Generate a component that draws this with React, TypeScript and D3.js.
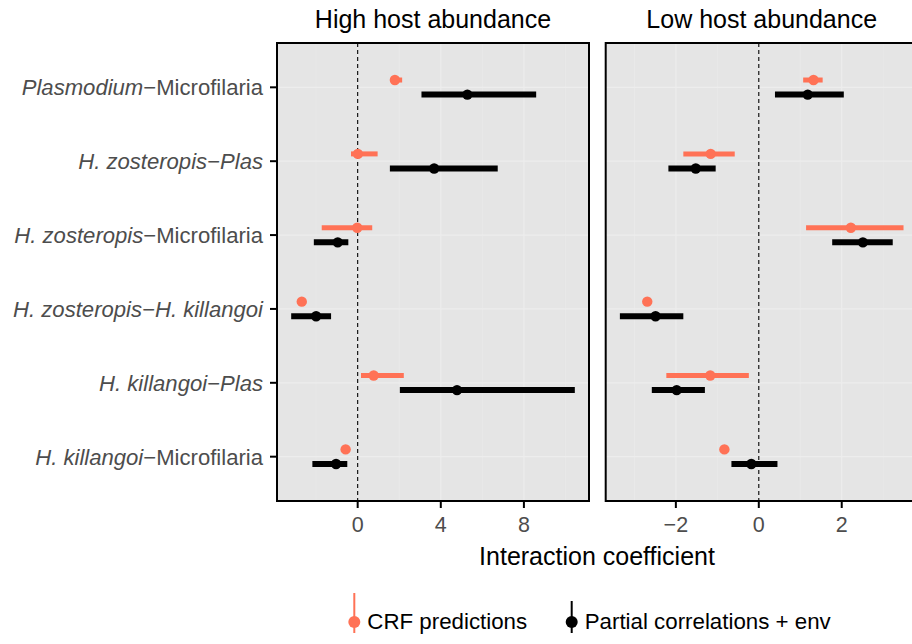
import React from 'react';
import * as d3 from 'd3';

// interaction pairs, top to bottom; each label is a list of [text, italic] pieces
const categories = [
  'Plasmodium-Microfilaria',
  'H. zosteropis-Plas',
  'H. zosteropis-Microfilaria',
  'H. zosteropis-H. killangoi',
  'H. killangoi-Plas',
  'H. killangoi-Microfilaria',
];
const categoryLabels: [string, boolean][][] = [
  [['Plasmodium', true], ['\u2212Microfilaria', false]],
  [['H. zosteropis\u2212Plas', true]],
  [['H. zosteropis', true], ['\u2212Microfilaria', false]],
  [['H. zosteropis\u2212H. killangoi', true]],
  [['H. killangoi\u2212Plas', true]],
  [['H. killangoi', true], ['\u2212Microfilaria', false]],
];

const panels = ['High host abundance', 'Low host abundance'];
const series = ['CRF predictions', 'Partial correlations + env'];

// high host abundance
const highCrfEst = [1.79, 0.01, -0.02, -2.69, 0.77, -0.58];
const highCrfLow = [1.62, -0.32, -1.73, -2.69, 0.16, -0.58];
const highCrfHigh = [2.14, 0.96, 0.7, -2.69, 2.22, -0.58];
const highPcEst = [5.28, 3.68, -0.96, -2.0, 4.78, -1.04];
const highPcLow = [3.07, 1.55, -2.11, -3.2, 2.03, -2.18];
const highPcHigh = [8.59, 6.74, -0.45, -1.28, 10.45, -0.5];

// low host abundance
const lowCrfEst = [1.32, -1.16, 2.22, -2.69, -1.17, -0.83];
const lowCrfLow = [1.07, -1.82, 1.14, -2.69, -2.23, -0.83];
const lowCrfHigh = [1.54, -0.58, 3.49, -2.69, -0.24, -0.83];
const lowPcEst = [1.18, -1.52, 2.51, -2.49, -1.98, -0.18];
const lowPcLow = [0.39, -2.18, 1.77, -3.35, -2.58, -0.66];
const lowPcHigh = [2.05, -1.04, 3.23, -1.82, -1.3, 0.45];

const highTicks = [0, 4, 8];
const lowTicks = [-2, 0, 2];

const colors = ['#FF7256', '#000000'];
const font = '"Liberation Sans", Arial, Helvetica, sans-serif';

const W = 912, H = 644;
const margin = { top: 43, left: 277, bottom: 143 };
const panelW = 312, panelGap = 16.7;
const plotH = H - margin.top - margin.bottom;

type Row = { cat: string; s: number; est: number; lo: number; hi: number };

function rows(est: number[][], lo: number[][], hi: number[][]): Row[] {
  const out: Row[] = [];
  categories.forEach((c, i) => {
    series.forEach((_, s) => {
      out.push({ cat: c, s, est: est[s][i], lo: lo[s][i], hi: hi[s][i] });
    });
  });
  return out;
}

const panelData = [
  rows([highCrfEst, highPcEst], [highCrfLow, highPcLow], [highCrfHigh, highPcHigh]),
  rows([lowCrfEst, lowPcEst], [lowCrfLow, lowPcLow], [lowCrfHigh, lowPcHigh]),
];
const panelTicks = [highTicks, lowTicks];

const fmt = (v: number) => (v < 0 ? '\u2212' + Math.abs(v) : String(v));

function Panel({ idx }: { idx: number }) {
  const data = panelData[idx];
  const x0 = margin.left + idx * (panelW + panelGap);
  const lo = d3.min(data, (d) => d.lo)!;
  const hi = d3.max(data, (d) => d.hi)!;
  const pad = (hi - lo) * 0.05;
  const x = d3.scaleLinear().domain([lo - pad, hi + pad]).range([0, panelW]);
  const y = d3.scalePoint().domain(categories).range([0, plotH]).padding(0.6);
  const dodge = d3.scalePoint<number>().domain([0, 1]).range([-7.3, 7.3]);
  const ticks = panelTicks[idx];
  const minor = d3.range(ticks.length + 1).map((i) => ticks[0] + (i - 0.5) * (ticks[1] - ticks[0]))
    .filter((v) => x(v) > 0 && x(v) < panelW);

  return (
    <g transform={`translate(${x0},${margin.top})`}>
      <rect width={panelW} height={plotH} fill="#E5E5E5" />
      {minor.map((v) => (
        <line key={'m' + v} x1={x(v)} x2={x(v)} y1={0} y2={plotH} stroke="#EBEBEB" strokeWidth={0.6} />
      ))}
      {ticks.map((v) => (
        <line key={'g' + v} x1={x(v)} x2={x(v)} y1={0} y2={plotH} stroke="#EDEDED" strokeWidth={1.2} />
      ))}
      {categories.map((c) => (
        <line key={c} x1={0} x2={panelW} y1={y(c)} y2={y(c)} stroke="#EDEDED" strokeWidth={1.2} />
      ))}
      <line x1={x(0)} x2={x(0)} y1={0} y2={plotH} stroke="#000" strokeWidth={1.1} strokeDasharray="4,3" />
      {data.map((d, i) => {
        const cy = y(d.cat)! + dodge(d.s)!;
        return (
          <g key={i}>
            <line x1={x(d.lo)} x2={x(d.hi)} y1={cy} y2={cy} stroke={colors[d.s]} strokeWidth={d.s === 0 ? 5 : 6} />
            <circle cx={x(d.est)} cy={cy} r={5.2} fill={colors[d.s]} />
          </g>
        );
      })}
      <rect width={panelW} height={plotH} fill="none" stroke="#000" strokeWidth={2} />
      {ticks.map((v) => (
        <g key={'t' + v} transform={`translate(${x(v)},${plotH})`}>
          <line y1={0} y2={7} stroke="#000" strokeWidth={2} />
          <text y={31} textAnchor="middle" fontSize={21.5} fill="#4D4D4D" fontFamily={font}>{fmt(v)}</text>
        </g>
      ))}
      <text x={panelW / 2} y={-15} textAnchor="middle" fontSize={25} fill="#000" fontFamily={font}>
        {panels[idx]}
      </text>
      {idx === 0 &&
        categories.map((c, i) => (
          <g key={'y' + c} transform={`translate(0,${y(c)})`}>
            <line x1={-7} x2={0} stroke="#000" strokeWidth={2} />
            <text x={-14} dy="0.36em" textAnchor="end" fontSize={22.1} fill="#4D4D4D" fontFamily={font}>
              {categoryLabels[i].map(([t, it], j) => (
                <tspan key={j} fontStyle={it ? 'italic' : 'normal'}>{t}</tspan>
              ))}
            </text>
          </g>
        ))}
    </g>
  );
}

function Legend() {
  const items = [
    { x: 354.3, top: 593 },
    { x: 571.7, top: 601 },
  ];
  return (
    <g>
      {series.map((s, i) => (
        <g key={s}>
          <line x1={items[i].x} x2={items[i].x} y1={items[i].top} y2={633} stroke={colors[i]} strokeWidth={2} />
          <circle cx={items[i].x} cy={622} r={6} fill={colors[i]} />
          <text x={items[i].x + 13} y={629} fontSize={22.3} fill="#000" fontFamily={font}>{s}</text>
        </g>
      ))}
    </g>
  );
}

export default function App() {
  return (
    <svg
      width={W}
      height={H}
      style={{ position: 'absolute', left: 0, top: 0, display: 'block', background: '#fff' }}
    >
      <rect width={W} height={H} fill="#fff" />
      {panels.map((p, i) => (
        <Panel key={p} idx={i} />
      ))}
      <text x={597} y={565} textAnchor="middle" fontSize={25} fill="#000" fontFamily={font}>
        Interaction coefficient
      </text>
      <Legend />
    </svg>
  );
}
